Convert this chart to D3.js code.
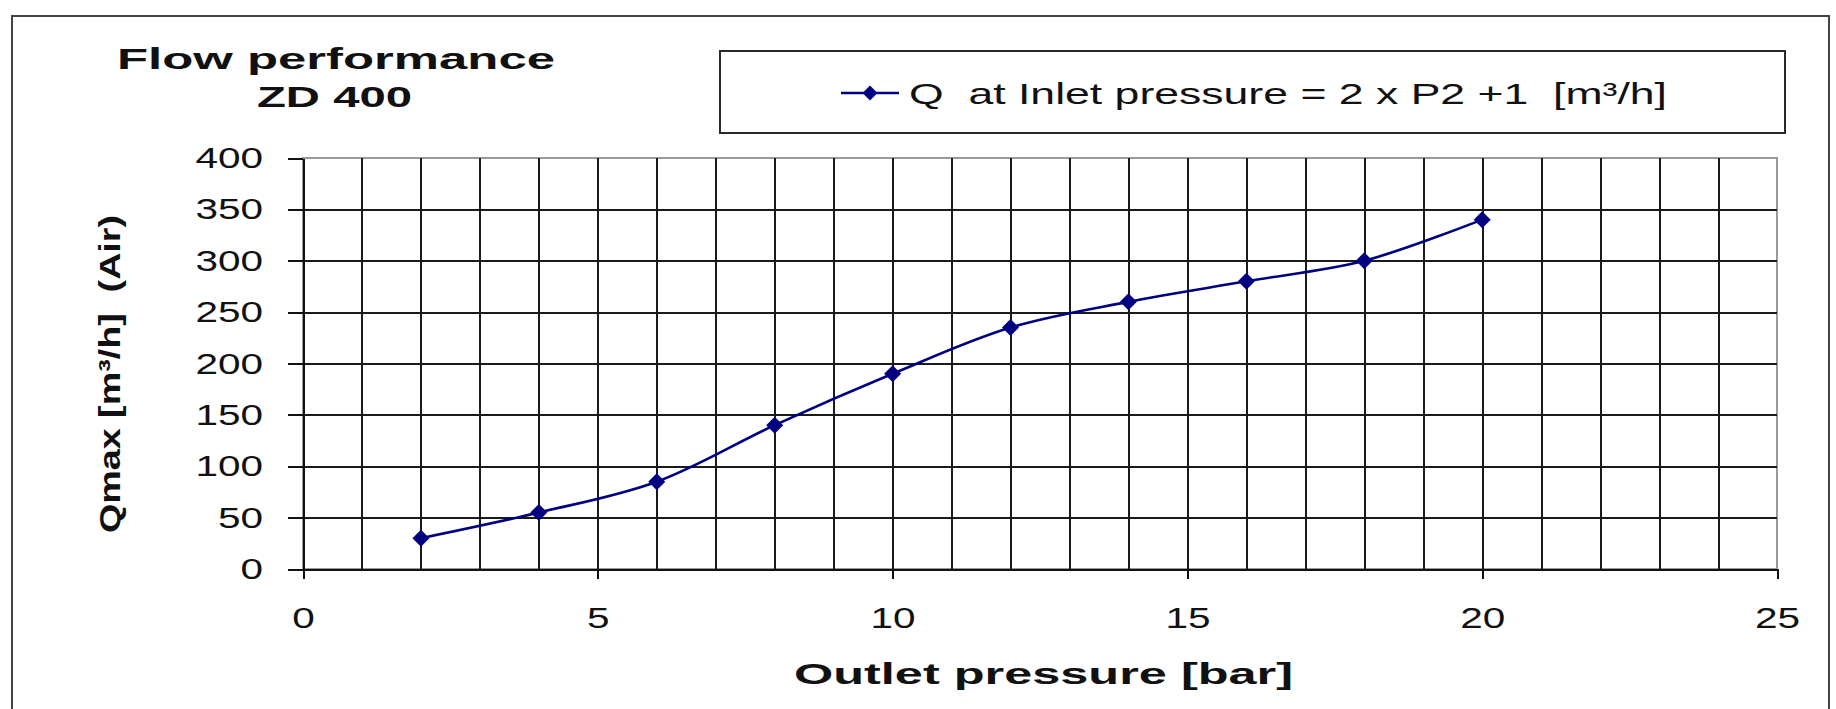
<!DOCTYPE html>
<html>
<head>
    <title>Flow performance ZD 400</title>
    <script src="https://d3js.org/d3.v7.min.js"></script>
    <style>
        body { margin: 0; background: #fff; }
        svg text { font-family: "Liberation Sans", Arial, sans-serif; fill: #111; }
        .axis path, .axis line { stroke: #111; shape-rendering: crispEdges; }
        .grid line { stroke: #1a1a1a; stroke-width: 2; shape-rendering: crispEdges; }
        .grid path { display: none; }
        .bold { font-weight: bold; }
    </style>
</head>
<body>
<div id="chart"></div>
<script>
    // data
    const outletPressure = [2, 4, 6, 8, 10, 12, 14, 16, 18, 20];
    const flowQ = [30, 55, 85, 140, 190, 235, 260, 280, 300, 340];
    const xTicks = [0, 5, 10, 15, 20, 25];
    const yTicks = [0, 50, 100, 150, 200, 250, 300, 350, 400];
    const legendLabel = "Q  at Inlet pressure = 2 x P2 +1  [m\u00b3/h]";

    const W = 1836, H = 709;
    const plot = { left: 303, right: 1777, top: 158, bottom: 569 };
    const textStretch = 1.35;

    const svg = d3.select("#chart").append("svg")
        .attr("width", W)
        .attr("height", H);

    // outer frame of the chart
    svg.append("rect")
        .attr("x", 12).attr("y", 16)
        .attr("width", 1817).attr("height", 720)
        .attr("fill", "none")
        .attr("stroke", "#444")
        .attr("stroke-width", 2);

    const x = d3.scaleLinear().domain([0, 25]).range([plot.left, plot.right]);
    const y = d3.scaleLinear().domain([0, 400]).range([plot.bottom, plot.top]);

    // plot area border (grey)
    svg.append("rect")
        .attr("x", plot.left).attr("y", plot.top)
        .attr("width", plot.right - plot.left)
        .attr("height", plot.bottom - plot.top)
        .attr("fill", "#fff")
        .attr("stroke", "#9a9a9a")
        .attr("stroke-width", 2)
        .attr("shape-rendering", "crispEdges");

    // vertical gridlines, every unit
    svg.append("g")
        .attr("class", "grid")
        .attr("transform", `translate(0,${plot.bottom})`)
        .call(d3.axisBottom(x)
            .tickValues(d3.range(1, 25))
            .tickSize(-(plot.bottom - plot.top))
            .tickFormat(""));

    // horizontal gridlines
    svg.append("g")
        .attr("class", "grid")
        .attr("transform", `translate(${plot.left},0)`)
        .call(d3.axisLeft(y)
            .tickValues(yTicks.slice(1, -1))
            .tickSize(-(plot.right - plot.left))
            .tickFormat(""));

    // y axis
    const yAxis = svg.append("g")
        .attr("class", "axis")
        .attr("transform", `translate(${plot.left},0)`)
        .call(d3.axisLeft(y).tickValues(yTicks).tickSizeInner(15).tickSizeOuter(0));
    yAxis.selectAll("line").attr("stroke-width", 2);
    yAxis.select("path").attr("stroke-width", 2);
    yAxis.selectAll("text")
        .attr("font-size", 30)
        .attr("x", -40 / textStretch)
        .attr("transform", `scale(${textStretch},1)`);

    // x axis
    const xAxis = svg.append("g")
        .attr("class", "axis")
        .attr("transform", `translate(0,${plot.bottom})`)
        .call(d3.axisBottom(x).tickValues(xTicks).tickSizeInner(10).tickSizeOuter(0));
    xAxis.selectAll("line").attr("stroke-width", 2);
    xAxis.select("path").attr("stroke-width", 2);
    xAxis.selectAll("text")
        .attr("font-size", 30)
        .attr("y", 38)
        .attr("transform", `scale(${textStretch},1)`);

    // series
    const points = outletPressure.map((p, i) => ({ p: p, q: flowQ[i] }));
    const line = d3.line()
        .x(d => x(d.p))
        .y(d => y(d.q))
        .curve(d3.curveCatmullRom.alpha(0.5));

    svg.append("path")
        .datum(points)
        .attr("fill", "none")
        .attr("stroke", "#000080")
        .attr("stroke-width", 2.6)
        .attr("d", line);

    const diamond = (cx, cy, r) => `M${cx},${cy - r}L${cx + r},${cy}L${cx},${cy + r}L${cx - r},${cy}Z`;

    svg.selectAll(".marker")
        .data(points)
        .enter()
        .append("path")
        .attr("class", "marker")
        .attr("fill", "#000080")
        .attr("d", d => diamond(x(d.p), y(d.q), 8.5));

    // title
    svg.append("text")
        .attr("class", "bold")
        .attr("x", 117).attr("y", 69)
        .attr("font-size", 30)
        .attr("textLength", 438)
        .attr("lengthAdjust", "spacingAndGlyphs")
        .text("Flow performance");
    svg.append("text")
        .attr("class", "bold")
        .attr("x", 257).attr("y", 107)
        .attr("font-size", 30)
        .attr("textLength", 155)
        .attr("lengthAdjust", "spacingAndGlyphs")
        .text("ZD 400");

    // axis titles
    svg.append("text")
        .attr("class", "bold")
        .attr("x", 794).attr("y", 684)
        .attr("font-size", 30)
        .attr("textLength", 499)
        .attr("lengthAdjust", "spacingAndGlyphs")
        .text("Outlet pressure [bar]");

    svg.append("text")
        .attr("class", "bold")
        .attr("transform", "translate(120,533) rotate(-90)")
        .attr("font-size", 30)
        .attr("textLength", 318)
        .attr("lengthAdjust", "spacingAndGlyphs")
        .text("Qmax [m\u00b3/h]  (Air)")
        .style("white-space", "pre");

    // legend
    const legend = svg.append("g");
    legend.append("rect")
        .attr("x", 720).attr("y", 51)
        .attr("width", 1065).attr("height", 82)
        .attr("fill", "#fff")
        .attr("stroke", "#2a2a2a")
        .attr("stroke-width", 2);
    legend.append("line")
        .attr("x1", 841).attr("x2", 899)
        .attr("y1", 93).attr("y2", 93)
        .attr("stroke", "#000080")
        .attr("stroke-width", 2.6);
    legend.append("path")
        .attr("fill", "#000080")
        .attr("d", diamond(870, 93, 7.5));
    legend.append("text")
        .attr("x", 909).attr("y", 104)
        .attr("font-size", 30)
        .attr("textLength", 758)
        .attr("lengthAdjust", "spacingAndGlyphs")
        .style("white-space", "pre")
        .text(legendLabel);
</script>
</body>
</html>
